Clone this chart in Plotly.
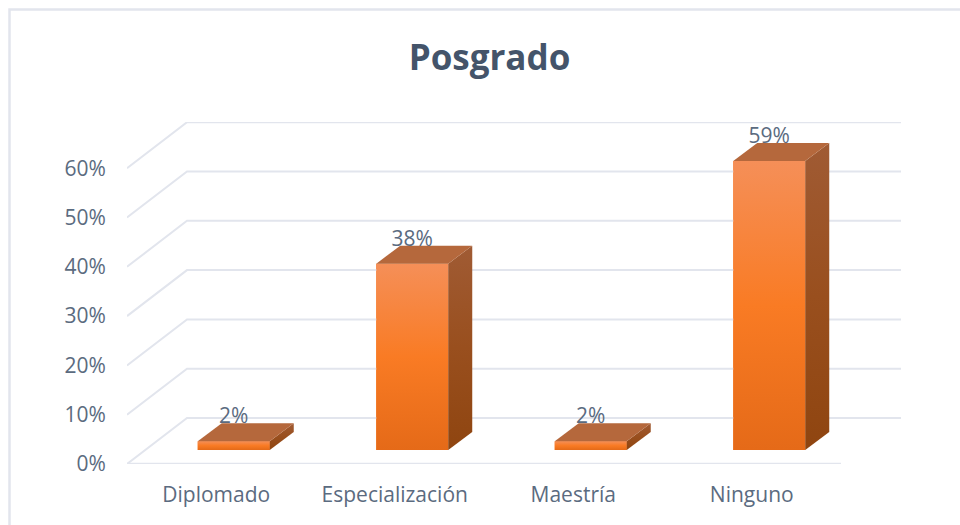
import plotly.graph_objects as go

# ---- data ----
categories = ["Diplomado", "Especialización", "Maestría", "Ninguno"]
values = [1.8, 37.8, 1.8, 58.6]
y_ticks = [0, 10, 20, 30, 40, 50, 60]
y_tick_labels = ["0%", "10%", "20%", "30%", "40%", "50%", "60%"]

# ---- pixel frame of the front plane ----
W, H = 960, 525
LEFT, RIGHT_FRONT, RIGHT_BACK = 127.0, 841.0, 901.0
BOTTOM, TOP_BACK = 464.0, 122.0
PX_X = (RIGHT_FRONT - LEFT) / len(categories)
PX_Y = 4.93

x_lo = -0.5
x_hi = x_lo + (RIGHT_BACK - LEFT) / PX_X
y_lo = 0
y_hi = (BOTTOM - TOP_BACK) / PX_Y

# oblique projection, in data units
WALL_DX, WALL_DY = 60 / PX_X, 46 / PX_Y
BAR_DX, BAR_DY = 24 / PX_X, 18 / PX_Y
BAR_W = 72 / PX_X
BAR_SHIFT = 0.098
BAR_BASE = 14 / PX_Y
LABEL_GAP = 5 / PX_Y

GRID = "#e2e5ed"
TEXT = "#5b6b80"
TITLE = "#44546a"
FRONT_SCALE = [[0, "#e56a18"], [0.5, "#f97b24"], [1, "#f58f58"]]
SIDE_SCALE = [[0, "#8f4510"], [0.5, "#994f1e"], [1, "#a05b34"]]
TOP_COLOR = "#b5683c"

fig = go.Figure()

# walls: gridlines on the back wall with diagonals down to the front plane
gx, gy = [], []
for t in y_ticks:
    gx += [x_lo, x_lo + WALL_DX, x_hi, None]
    gy += [t, t + WALL_DY, t + WALL_DY, None]
fig.add_trace(go.Scatter(x=gx, y=gy, mode="lines", line=dict(color=GRID, width=2),
                         hoverinfo="skip", showlegend=False, cliponaxis=False))
# floor front edge
fig.add_trace(go.Scatter(x=[x_lo, x_lo + len(categories)], y=[0, 0], mode="lines",
                         line=dict(color=GRID, width=2.5), hoverinfo="skip",
                         showlegend=False, cliponaxis=False))

xs = list(range(len(categories)))
lefts = [i + BAR_SHIFT - BAR_W / 2 for i in xs]
rights = [i + BAR_SHIFT + BAR_W / 2 for i in xs]
tops = [BAR_BASE + v for v in values]

# front faces
fig.add_trace(go.Bar(x=[i + BAR_SHIFT for i in xs], y=values, base=[BAR_BASE] * len(values),
                     width=BAR_W, marker=dict(color="#f97b24", line=dict(width=0)),
                     hoverinfo="skip", showlegend=False))

for l, r, top in zip(lefts, rights, tops):
    # front gradient
    fig.add_trace(go.Scatter(x=[l, r, r, l, l], y=[BAR_BASE, BAR_BASE, top, top, BAR_BASE],
                             mode="lines", line=dict(width=0), fill="toself",
                             fillgradient=dict(type="vertical", colorscale=FRONT_SCALE),
                             hoverinfo="skip", showlegend=False))
    # side face
    fig.add_trace(go.Scatter(x=[r, r + BAR_DX, r + BAR_DX, r, r],
                             y=[BAR_BASE, BAR_BASE + BAR_DY, top + BAR_DY, top, BAR_BASE],
                             mode="lines", line=dict(width=0), fill="toself",
                             fillgradient=dict(type="vertical", colorscale=SIDE_SCALE),
                             hoverinfo="skip", showlegend=False))
    # top face
    fig.add_trace(go.Scatter(x=[l, r, r + BAR_DX, l + BAR_DX, l],
                             y=[top, top, top + BAR_DY, top + BAR_DY, top],
                             mode="lines", line=dict(width=0), fill="toself",
                             fillcolor=TOP_COLOR, hoverinfo="skip", showlegend=False))

# value labels
fig.add_trace(go.Scatter(x=[i + BAR_SHIFT for i in xs],
                         y=[t + BAR_DY + LABEL_GAP for t in tops],
                         mode="text", text=[f"{round(v)}%" for v in values],
                         textposition="middle center",
                         textfont=dict(family="Open Sans", size=21, color=TEXT),
                         hoverinfo="skip", showlegend=False, cliponaxis=False))

px = lambda p: (p - LEFT) / (RIGHT_BACK - LEFT)
py = lambda p: (BOTTOM - p) / (BOTTOM - TOP_BACK)

fig.update_layout(
    width=W, height=H, autosize=False,
    margin=dict(l=LEFT, r=W - RIGHT_BACK, t=TOP_BACK, b=H - BOTTOM),
    paper_bgcolor="white", plot_bgcolor="white", showlegend=False,
    title=dict(text="<b>Posgrado</b>", x=489.5 / W, xanchor="center", xref="container",
               y=1 - 58 / H, yanchor="middle", yref="container",
               font=dict(family="Open Sans", size=35, color=TITLE)),
    xaxis=dict(range=[x_lo, x_hi], tickmode="array", tickvals=xs, ticktext=categories,
               showgrid=False, zeroline=False, showline=False, ticks="outside", ticklen=12,
               tickcolor="rgba(0,0,0,0)",
               tickfont=dict(family="Open Sans", size=21, color=TEXT)),
    yaxis=dict(range=[y_lo, y_hi], tickmode="array", tickvals=y_ticks, ticktext=y_tick_labels,
               showgrid=False, zeroline=False, showline=False, ticks="outside", ticklen=16,
               tickcolor="rgba(0,0,0,0)",
               tickfont=dict(family="Open Sans", size=21, color=TEXT)),
    shapes=[dict(type="path", xref="paper", yref="paper",
                 path=f"M {px(9.5)} {py(H + 5)} L {px(9.5)} {py(9.5)} L {px(W + 5)} {py(9.5)}",
                 line=dict(color=GRID, width=2.5))],
)

fig.write_html("out.html", config={"displayModeBar": False},
               post_script="document.body.style.margin='0';")
